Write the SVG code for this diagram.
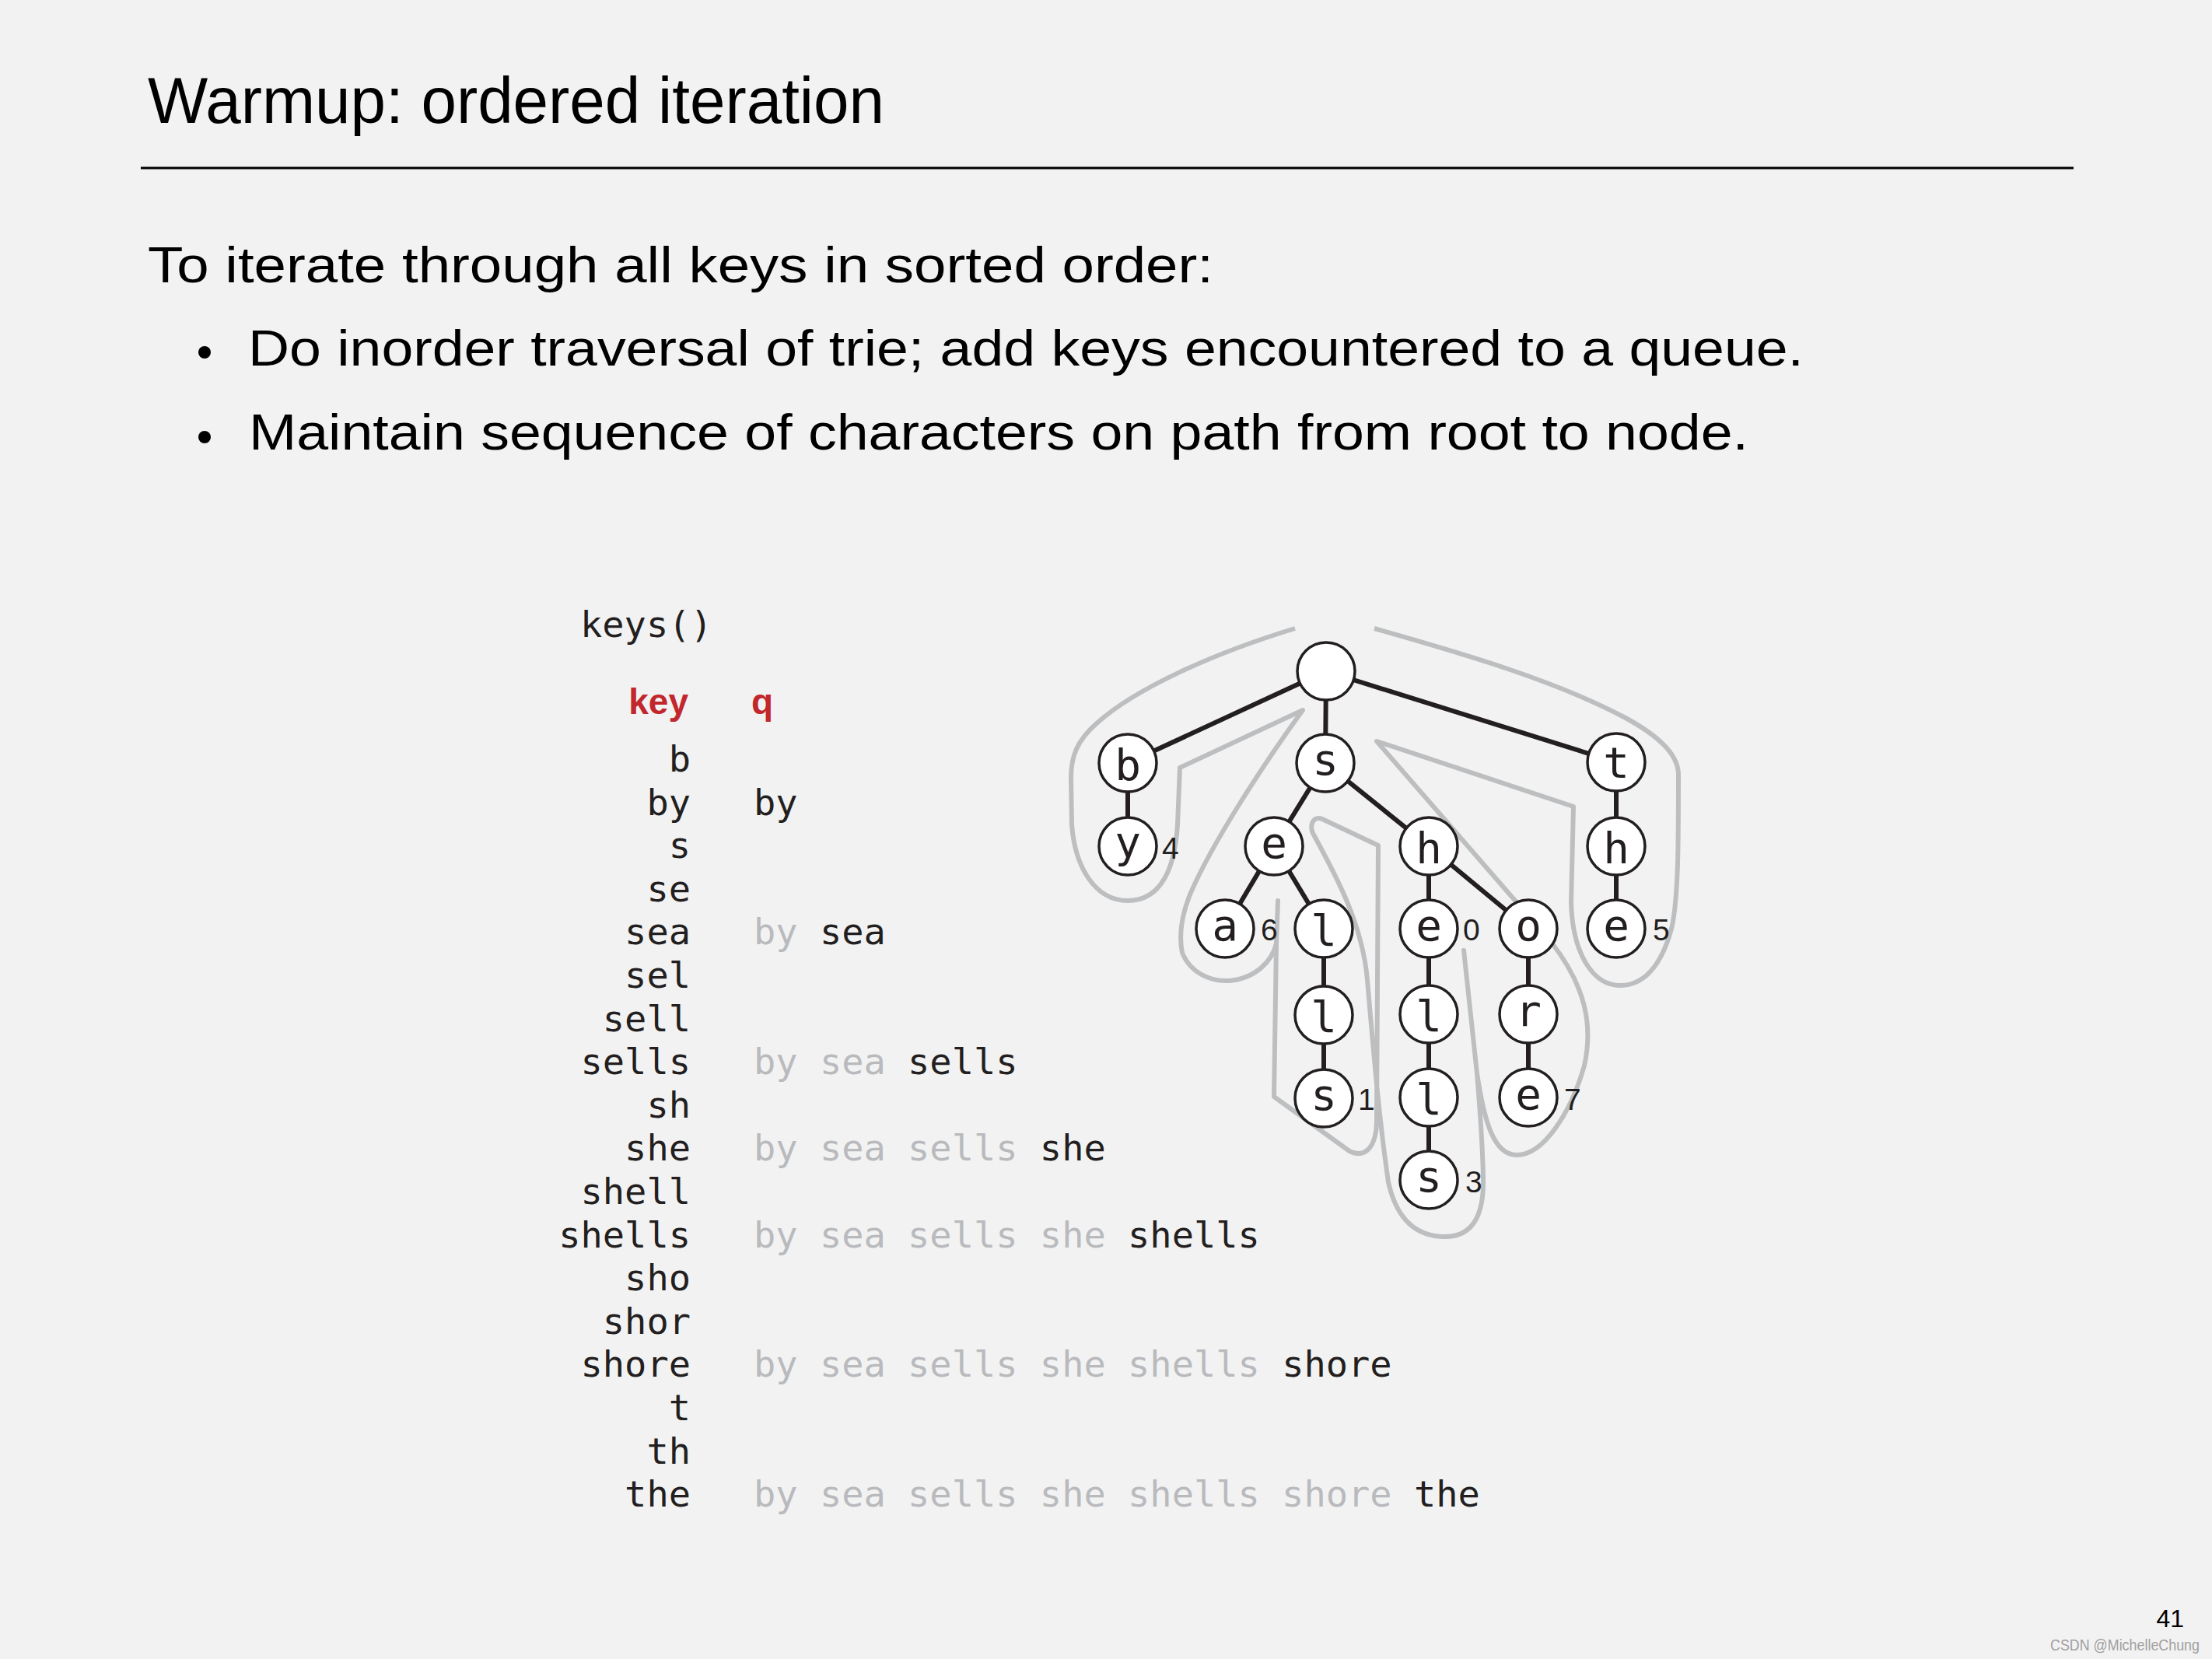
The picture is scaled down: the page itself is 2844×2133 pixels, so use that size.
<svg xmlns="http://www.w3.org/2000/svg" width="2844" height="2133" viewBox="0 0 2844 2133">
<style>
.title{font-family:"Liberation Sans",Arial,sans-serif;font-size:84px;fill:#000}
.body{font-family:"Liberation Sans",Arial,sans-serif;font-size:64px;fill:#000}
.mono{font-family:"DejaVu Sans Mono","Liberation Mono",monospace;font-size:47px;fill:#231f20}
.g{fill:#b9babd}
.hdr{font-family:"Liberation Sans",Arial,sans-serif;font-size:46px;font-weight:bold;fill:#c1272d}
.edge{stroke:#231f20;stroke-width:6;stroke-linecap:round}
.node circle{fill:#fff;stroke:#231f20;stroke-width:3.5}
.lbl{font-family:"DejaVu Sans Mono","Liberation Mono",monospace;font-size:56px;fill:#231f20;text-anchor:middle}
.val{font-family:"Liberation Sans",Arial,sans-serif;font-size:39px;fill:#231f20}
.trace{fill:none;stroke:#bcbec0;stroke-width:6;stroke-linejoin:round;stroke-linecap:butt}
</style>
<rect width="2844" height="2133" fill="#f2f2f2"/>

<g id="header">
<text class="title" x="190" y="158" textLength="947" lengthAdjust="spacingAndGlyphs">Warmup: ordered iteration</text>
<line x1="181" y1="216" x2="2666" y2="216" stroke="#000" stroke-width="3"/>
<text class="body" x="190" y="363" textLength="1370" lengthAdjust="spacingAndGlyphs">To iterate through all keys in sorted order:</text>
<circle cx="263" cy="453" r="8" fill="#000"/>
<text class="body" x="319" y="470" textLength="2000" lengthAdjust="spacingAndGlyphs">Do inorder traversal of trie; add keys encountered to a queue.</text>
<circle cx="263" cy="562" r="8" fill="#000"/>
<text class="body" x="320" y="578" textLength="1928" lengthAdjust="spacingAndGlyphs">Maintain sequence of characters on path from root to node.</text>
</g>

<g id="table">
<text class="mono" x="746" y="819">keys()</text>
<text class="hdr" x="885" y="918" text-anchor="end">key</text>
<text class="hdr" x="966" y="918">q</text>
<g text-anchor="end">
<text class="mono" x="888" y="992">b</text>
<text class="mono" x="888" y="1048">by</text>
<text class="mono" x="888" y="1103">s</text>
<text class="mono" x="888" y="1159">se</text>
<text class="mono" x="888" y="1214">sea</text>
<text class="mono" x="888" y="1270">sel</text>
<text class="mono" x="888" y="1326">sell</text>
<text class="mono" x="888" y="1381">sells</text>
<text class="mono" x="888" y="1437">sh</text>
<text class="mono" x="888" y="1492">she</text>
<text class="mono" x="888" y="1548">shell</text>
<text class="mono" x="888" y="1604">shells</text>
<text class="mono" x="888" y="1659">sho</text>
<text class="mono" x="888" y="1715">shor</text>
<text class="mono" x="888" y="1770">shore</text>
<text class="mono" x="888" y="1826">t</text>
<text class="mono" x="888" y="1882">th</text>
<text class="mono" x="888" y="1937">the</text>
</g>
<text class="mono" x="969" y="1048">by</text>
<text class="mono" x="969" y="1214" xml:space="preserve"><tspan class="g">by </tspan>sea</text>
<text class="mono" x="969" y="1381" xml:space="preserve"><tspan class="g">by sea </tspan>sells</text>
<text class="mono" x="969" y="1492" xml:space="preserve"><tspan class="g">by sea sells </tspan>she</text>
<text class="mono" x="969" y="1604" xml:space="preserve"><tspan class="g">by sea sells she </tspan>shells</text>
<text class="mono" x="969" y="1770" xml:space="preserve"><tspan class="g">by sea sells she shells </tspan>shore</text>
<text class="mono" x="969" y="1937" xml:space="preserve"><tspan class="g">by sea sells she shells shore </tspan>the</text>
</g>

<g id="trace">
<path class="trace" d="M1665,808 C1560,840 1460,885 1410,930 C1385,952 1377,972 1377,1000 L1378,1060 C1382,1115 1408,1158 1450,1158 C1495,1158 1511,1112 1514,1060 L1517,987 L1675,913 C1630,975 1560,1080 1530,1150 C1518,1180 1516,1205 1520,1225 C1530,1250 1555,1262 1580,1261 C1615,1258 1636,1235 1641,1213 L1643,1158 L1641,1213 L1638,1410 L1735,1480 C1755,1490 1770,1475 1770,1440 L1772,1087 L1700,1053 C1688,1048 1682,1062 1690,1075 C1720,1130 1752,1190 1758,1260 C1765,1340 1772,1430 1785,1520 C1798,1578 1830,1590 1858,1590 C1895,1590 1908,1560 1907,1515 C1906,1460 1902,1420 1899,1380 L1882,1222 L1899,1380 C1908,1440 1920,1485 1950,1485 C1985,1485 2020,1430 2037,1370 C2048,1320 2040,1270 1995,1212 L1770,953 L2023,1037 L2020,1160 C2022,1230 2050,1267 2083,1267 C2120,1267 2140,1230 2150,1190 C2158,1150 2158,1080 2158,995 C2157,968 2130,945 2090,923 C2000,875 1880,840 1767,808"/>
</g>

<g id="connectors">
<line class="edge" x1="1705" y1="863" x2="1450" y2="981"/>
<line class="edge" x1="1705" y1="863" x2="1704" y2="981"/>
<line class="edge" x1="1705" y1="863" x2="2078" y2="980"/>
<line class="edge" x1="1450" y1="981" x2="1450" y2="1088"/>
<line class="edge" x1="1704" y1="981" x2="1638" y2="1088"/>
<line class="edge" x1="1704" y1="981" x2="1837" y2="1088"/>
<line class="edge" x1="1638" y1="1088" x2="1575" y2="1194"/>
<line class="edge" x1="1638" y1="1088" x2="1702" y2="1194"/>
<line class="edge" x1="1702" y1="1194" x2="1702" y2="1412"/>
<line class="edge" x1="1837" y1="1088" x2="1837" y2="1517"/>
<line class="edge" x1="1837" y1="1088" x2="1965" y2="1194"/>
<line class="edge" x1="1965" y1="1194" x2="1965" y2="1411"/>
<line class="edge" x1="2078" y1="980" x2="2078" y2="1194"/>
</g>

<g id="n-root" class="node"><circle cx="1705" cy="863" r="37"/></g>
<g id="n-b" class="node"><circle cx="1450" cy="981" r="37"/><text class="lbl" x="1450" y="1003">b</text></g>
<g id="n-by" class="node"><circle cx="1450" cy="1088" r="37"/><text class="lbl" x="1450" y="1102">y</text><text class="val" x="1494" y="1104">4</text></g>
<g id="n-s" class="node"><circle cx="1704" cy="981" r="37"/><text class="lbl" x="1704" y="996">s</text></g>
<g id="n-se" class="node"><circle cx="1638" cy="1088" r="37"/><text class="lbl" x="1638" y="1103">e</text></g>
<g id="n-sea" class="node"><circle cx="1575" cy="1194" r="37"/><text class="lbl" x="1575" y="1209">a</text><text class="val" x="1621" y="1209">6</text></g>
<g id="n-sel" class="node"><circle cx="1702" cy="1194" r="37"/><text class="lbl" x="1702" y="1216">l</text></g>
<g id="n-sell" class="node"><circle cx="1702" cy="1305" r="37"/><text class="lbl" x="1702" y="1327">l</text></g>
<g id="n-sells" class="node"><circle cx="1702" cy="1412" r="37"/><text class="lbl" x="1702" y="1427">s</text><text class="val" x="1746" y="1427">1</text></g>
<g id="n-sh" class="node"><circle cx="1837" cy="1088" r="37"/><text class="lbl" x="1837" y="1110">h</text></g>
<g id="n-she" class="node"><circle cx="1837" cy="1194" r="37"/><text class="lbl" x="1837" y="1209">e</text><text class="val" x="1881" y="1209">0</text></g>
<g id="n-shel" class="node"><circle cx="1837" cy="1304" r="37"/><text class="lbl" x="1837" y="1326">l</text></g>
<g id="n-shell" class="node"><circle cx="1837" cy="1411" r="37"/><text class="lbl" x="1837" y="1433">l</text></g>
<g id="n-shells" class="node"><circle cx="1837" cy="1517" r="37"/><text class="lbl" x="1837" y="1532">s</text><text class="val" x="1884" y="1533">3</text></g>
<g id="n-sho" class="node"><circle cx="1965" cy="1194" r="37"/><text class="lbl" x="1965" y="1209">o</text></g>
<g id="n-shor" class="node"><circle cx="1965" cy="1304" r="37"/><text class="lbl" x="1965" y="1319">r</text></g>
<g id="n-shore" class="node"><circle cx="1965" cy="1411" r="37"/><text class="lbl" x="1965" y="1426">e</text><text class="val" x="2011" y="1427">7</text></g>
<g id="n-t" class="node"><circle cx="2078" cy="980" r="37"/><text class="lbl" x="2078" y="1000">t</text></g>
<g id="n-th" class="node"><circle cx="2078" cy="1088" r="37"/><text class="lbl" x="2078" y="1110">h</text></g>
<g id="n-the" class="node"><circle cx="2078" cy="1194" r="37"/><text class="lbl" x="2078" y="1209">e</text><text class="val" x="2125" y="1209">5</text></g>

<g id="footer">
<text x="2808" y="2092" text-anchor="end" font-family="Liberation Sans, Arial, sans-serif" font-size="32" fill="#000">41</text>
<text x="2636" y="2122" font-family="Liberation Sans, Arial, sans-serif" font-size="20" fill="#a0a0a0" textLength="192" lengthAdjust="spacingAndGlyphs">CSDN @MichelleChung</text>
</g>
</svg>
